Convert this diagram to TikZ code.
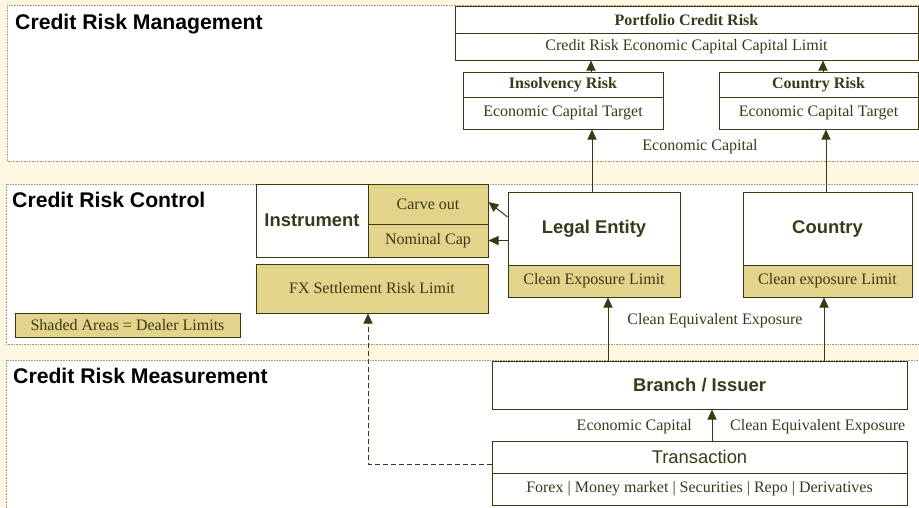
\documentclass[tikz,border=0pt]{standalone}
\usepackage{fontspec}
\setmainfont{Liberation Serif}
\setsansfont{Liberation Sans}
\usetikzlibrary{arrows.meta}
\definecolor{bgc}{HTML}{FEF7E1}
\definecolor{linec}{HTML}{3A3A12}
\definecolor{txtc}{HTML}{3A3A1A}
\definecolor{shade}{HTML}{E3D48B}
\definecolor{dotc}{HTML}{9A9A8A}
\begin{document}
\begin{tikzpicture}[x=1pt,y=-1pt,
  box/.style={draw=linec, line width=1pt, fill=white, inner sep=0pt, text=txtc, font=\fontsize{16}{18}\selectfont},
  shd/.style={box, fill=shade},
  hdr/.style={font=\sffamily\bfseries\fontsize{18.4}{20}\selectfont},
  ttl/.style={font=\sffamily\bfseries\fontsize{21.2}{24}\selectfont, text=black, anchor=base west, inner sep=0pt},
  lbl/.style={text=txtc, font=\fontsize{16}{18}\selectfont, inner sep=0pt},
  arr/.style={draw=linec, line width=1pt, -{Triangle[width=9pt,length=10pt]}},
  dsh/.style={dash pattern=on 5pt off 3pt},
  panel/.style={fill=white, draw=dotc, line width=0.8pt, dash pattern=on 0.8pt off 0.8pt}]
\useasboundingbox (0,0) rectangle (919,507);
\fill[bgc] (0,0) rectangle (919,507);
\clip (0,0) rectangle (919,507);
% panels
\draw[panel] (7,5) rectangle (930,161);
\draw[panel] (6,184) rectangle (930,344);
\draw[panel] (6,360) rectangle (930,520);
\node[ttl] (t1) at (15,29) {Credit Risk Management};
\node[ttl] (t2) at (12,207) {Credit Risk Control};
\node[ttl] (t3) at (13,383) {Credit Risk Measurement};
% management
\node[box, minimum width=463pt, minimum height=27pt, font=\bfseries\fontsize{16}{18}\selectfont] (pt) at (686.5,19.5) {Portfolio Credit Risk};
\node[box, minimum width=463pt, minimum height=27pt] (pb) at (686.5,46.5) {Credit Risk Economic Capital Capital Limit};
\node[box, minimum width=200pt, minimum height=25pt, font=\bfseries\fontsize{16}{18}\selectfont] (it) at (563,84.5) {Insolvency Risk};
\node[box, minimum width=200pt, minimum height=32pt] (ib) at (563,113) {Economic Capital Target};
\node[box, minimum width=199pt, minimum height=25pt, font=\bfseries\fontsize{16}{18}\selectfont] (ct) at (818.5,84.5) {Country Risk};
\node[box, minimum width=199pt, minimum height=32pt] (cb) at (818.5,113) {Economic Capital Target};
\node[lbl] (ecl) at (700,147) {Economic Capital};
% control
\node[box, hdr, minimum width=112pt, minimum height=73pt] (ins) at (312,220.5) {Instrument};
\node[shd, minimum width=120pt, minimum height=40pt] (carve) at (428,204) {Carve out};
\node[shd, minimum width=120pt, minimum height=33pt] (nom) at (428,240.5) {Nominal Cap};
\node[shd, minimum width=232pt, minimum height=49pt] (fx) at (372,288.5) {FX Settlement Risk Limit};
\node[box, hdr, minimum width=172pt, minimum height=73pt] (le) at (594,228.5) {Legal Entity};
\node[shd, minimum width=172pt, minimum height=32pt] (lel) at (594,281) {Clean Exposure Limit};
\node[box, hdr, minimum width=169pt, minimum height=73pt] (co) at (827.5,228.5) {Country};
\node[shd, minimum width=169pt, minimum height=32pt] (col) at (827.5,281) {Clean exposure Limit};
\node[shd, minimum width=225pt, minimum height=24pt] (leg) at (127.5,325) {Shaded Areas = Dealer Limits};
\node[lbl] (cee) at (715,321) {Clean Equivalent Exposure};
% measurement
\node[box, hdr, minimum width=415pt, minimum height=48pt] (br) at (699.5,385) {Branch / Issuer};
\node[box, minimum width=415pt, minimum height=32pt, font=\sffamily\fontsize{18.4}{20}\selectfont] (tr) at (699.5,457) {Transaction};
\node[box, minimum width=415pt, minimum height=32pt] (prod) at (699.5,489) {Forex | Money market | Securities | Repo | Derivatives};
\node[lbl, anchor=east] (ec2) at (692,427) {Economic Capital};
\node[lbl, anchor=west] (cee2) at (730,427) {Clean Equivalent Exposure};
% connectors
\draw[arr] ([xshift=28pt]it.north) -- ([xshift=28pt]it.north |- pb.south);
\draw[arr] ([xshift=4.5pt]ct.north) -- ([xshift=4.5pt]ct.north |- pb.south);
\draw[arr] ([xshift=-2pt]le.north) -- ([xshift=-2pt]le.north |- ib.south);
\draw[arr] ([xshift=-1.5pt]co.north) -- ([xshift=-1.5pt]co.north |- cb.south);
\draw[arr] ([yshift=11.5pt]le.west) -- ([yshift=2pt]carve.east);
\draw[arr] (nom.east -| le.west) -- (nom.east);
\draw[arr] ([xshift=14pt]lel.south |- br.north) -- ([xshift=14pt]lel.south);
\draw[arr] ([xshift=-3.5pt]col.south |- br.north) -- ([xshift=-3.5pt]col.south);
\draw[arr] ([xshift=12.5pt]tr.north) -- ([xshift=12.5pt]tr.north |- br.south);
\draw[arr, dsh] ([yshift=-7pt]tr.west) -| ([xshift=-4pt]fx.south);
\end{tikzpicture}
\end{document}
